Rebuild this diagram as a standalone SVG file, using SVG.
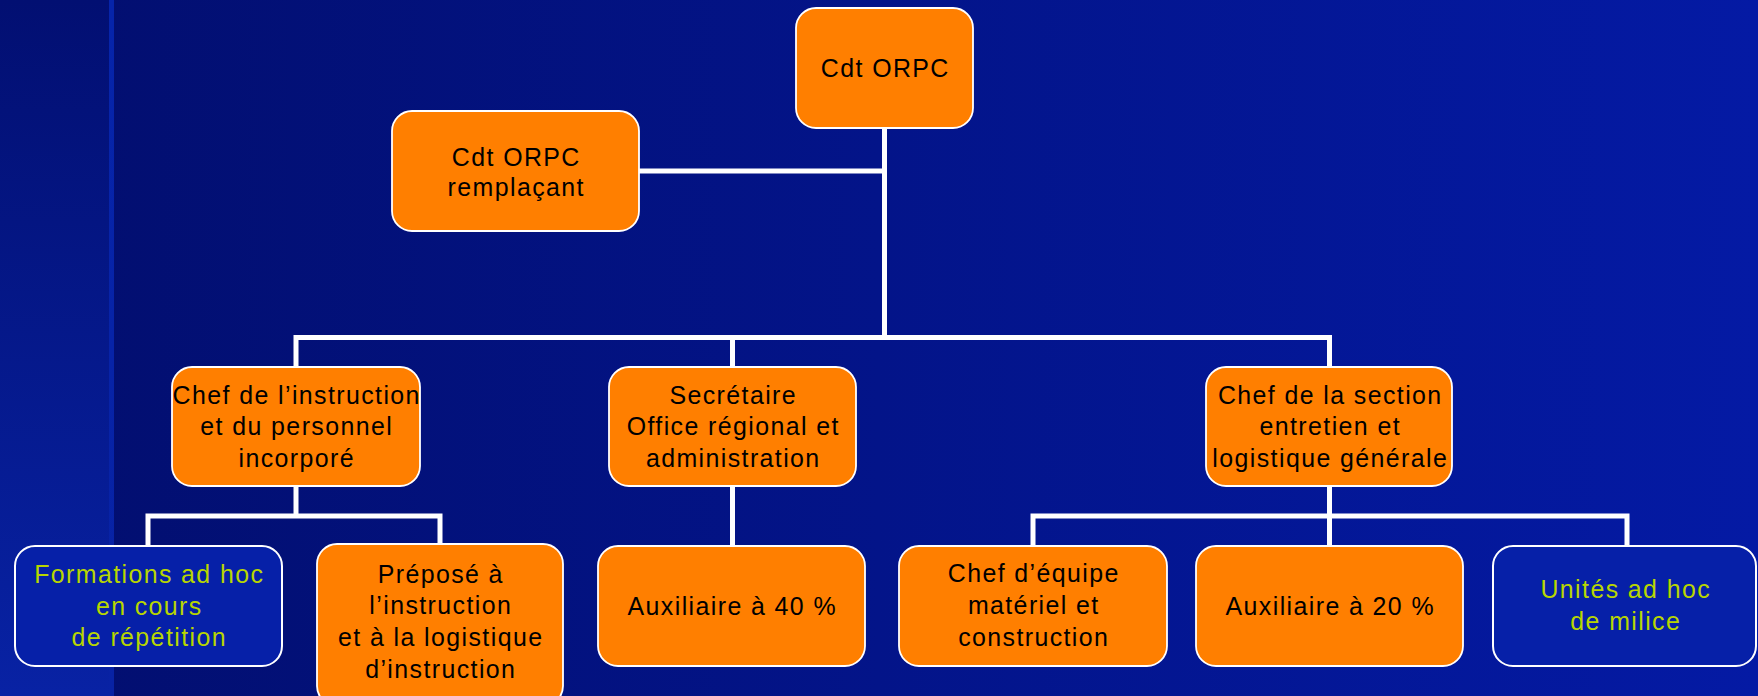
<svg xmlns="http://www.w3.org/2000/svg" width="1758" height="696" viewBox="0 0 1758 696">
  <defs>
    <linearGradient id="bgMain" x1="0" y1="0" x2="1" y2="0">
      <stop offset="0" stop-color="#020e6e"/>
      <stop offset="1" stop-color="#041aa4"/>
    </linearGradient>
    <linearGradient id="bgLeft" x1="0" y1="0" x2="0" y2="1">
      <stop offset="0" stop-color="#020f72"/>
      <stop offset="1" stop-color="#0822a4"/>
    </linearGradient>
    <linearGradient id="bgLine" x1="0" y1="0" x2="0" y2="1">
      <stop offset="0" stop-color="#0624aa"/>
      <stop offset="1" stop-color="#0822a4"/>
    </linearGradient>
  </defs>
  <style>
    .box { fill: #ff7f00; stroke: #ffffff; stroke-width: 1.8; }
    .bbox { fill: #0620a8; stroke: #ffffff; stroke-width: 2; }
    .t { font-family: "Liberation Sans", Arial, sans-serif; font-size: 26.5px; letter-spacing: 1.5px; text-anchor: middle; fill: #000000; }
    .g { fill: #b8d600; }
    .conn { fill: none; stroke: #ffffff; stroke-width: 5; stroke-linejoin: miter; stroke-linecap: butt; }
  </style>

  <rect x="0" y="0" width="1758" height="696" fill="url(#bgMain)"/>
  <rect x="0" y="0" width="110" height="696" fill="url(#bgLeft)"/>
  <rect x="109" y="0" width="5" height="696" fill="url(#bgLine)"/>

  <g id="connectors">
    <path class="conn" d="M884.5,128 V337.5"/>
    <path class="conn" d="M639,171 H884.5"/>
    <path class="conn" d="M296,367 V337.5 H1329.5 V367"/>
    <path class="conn" d="M732.5,337.5 V367"/>
    <path class="conn" d="M296,486 V516"/>
    <path class="conn" d="M148,546 V516 H440 V544"/>
    <path class="conn" d="M732.5,486 V546"/>
    <path class="conn" d="M1329.5,486 V546"/>
    <path class="conn" d="M1033,546 V516 H1627 V546"/>
  </g>

  <g id="node-cdt">
    <rect class="box" x="796" y="8" width="177" height="120" rx="20"/>
    <g transform="translate(884.5 0) scale(0.94 1)">
      <text class="t" x="0.8" y="77.5">Cdt ORPC</text>
    </g>
  </g>

  <g id="node-remplacant">
    <rect class="box" x="392" y="111" width="247" height="120" rx="20"/>
    <g transform="translate(515.5 0) scale(0.94 1)">
      <text class="t" x="0.8" y="165.7">Cdt ORPC</text>
      <text class="t" x="0.8" y="196.5">remplaçant</text>
    </g>
  </g>

  <g id="node-chef-instruction">
    <rect class="box" x="172" y="367" width="248" height="119" rx="20"/>
    <g transform="translate(296 0) scale(0.94 1)">
      <text class="t" x="0.8" y="404">Chef de l’instruction</text>
      <text class="t" x="0.8" y="435.5">et du personnel</text>
      <text class="t" x="0.8" y="467">incorporé</text>
    </g>
  </g>

  <g id="node-secretaire">
    <rect class="box" x="609" y="367" width="247" height="119" rx="20"/>
    <g transform="translate(732.5 0) scale(0.94 1)">
      <text class="t" x="0.8" y="404">Secrétaire</text>
      <text class="t" x="0.8" y="435.5">Office régional et</text>
      <text class="t" x="0.8" y="467">administration</text>
    </g>
  </g>

  <g id="node-chef-section">
    <rect class="box" x="1206" y="367" width="246" height="119" rx="20"/>
    <g transform="translate(1329.5 0) scale(0.94 1)">
      <text class="t" x="0.8" y="404">Chef de la section</text>
      <text class="t" x="0.8" y="435.5">entretien et</text>
      <text class="t" x="0.8" y="467">logistique générale</text>
    </g>
  </g>

  <g id="node-formations">
    <rect class="bbox" x="15" y="546" width="267" height="120" rx="20"/>
    <g transform="translate(148.5 0) scale(0.94 1)">
      <text class="t g" x="0.8" y="583">Formations ad hoc</text>
      <text class="t g" x="0.8" y="614.7">en cours</text>
      <text class="t g" x="0.8" y="646.5">de répétition</text>
    </g>
  </g>

  <g id="node-prepose">
    <rect class="box" x="317" y="544" width="246" height="162" rx="20"/>
    <g transform="translate(440 0) scale(0.94 1)">
      <text class="t" x="0.8" y="582.7">Préposé à</text>
      <text class="t" x="0.8" y="614.5">l’instruction</text>
      <text class="t" x="0.8" y="646.5">et à la logistique</text>
      <text class="t" x="0.8" y="678">d’instruction</text>
    </g>
  </g>

  <g id="node-auxiliaire-40">
    <rect class="box" x="598" y="546" width="267" height="120" rx="20"/>
    <g transform="translate(731.5 0) scale(0.94 1)">
      <text class="t" x="0.8" y="615">Auxiliaire à 40 %</text>
    </g>
  </g>

  <g id="node-chef-equipe">
    <rect class="box" x="899" y="546" width="268" height="120" rx="20"/>
    <g transform="translate(1033 0) scale(0.94 1)">
      <text class="t" x="0.8" y="582">Chef d’équipe</text>
      <text class="t" x="0.8" y="614.5">matériel et</text>
      <text class="t" x="0.8" y="646.5">construction</text>
    </g>
  </g>

  <g id="node-auxiliaire-20">
    <rect class="box" x="1196" y="546" width="267" height="120" rx="20"/>
    <g transform="translate(1329.5 0) scale(0.94 1)">
      <text class="t" x="0.8" y="615">Auxiliaire à 20 %</text>
    </g>
  </g>

  <g id="node-unites">
    <rect class="bbox" x="1493" y="546" width="263" height="120" rx="20"/>
    <g transform="translate(1625 0) scale(0.94 1)">
      <text class="t g" x="0.8" y="598.3">Unités ad hoc</text>
      <text class="t g" x="0.8" y="630">de milice</text>
    </g>
  </g>
</svg>
